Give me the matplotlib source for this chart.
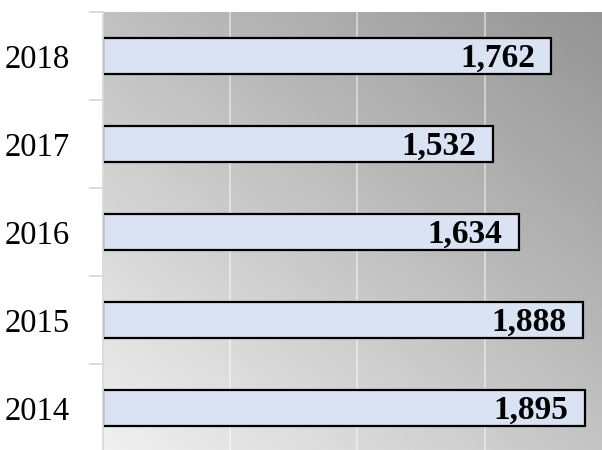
import numpy as np
import matplotlib.pyplot as plt
from matplotlib.ticker import FixedLocator, NullFormatter

years = ['2014', '2015', '2016', '2017', '2018']
values = [1895, 1888, 1634, 1532, 1762]
value_labels = ['1,895', '1,888', '1,634', '1,532', '1,762']

plt.rcParams['font.family'] = ['Liberation Serif', 'DejaVu Serif']

fig = plt.figure(figsize=(6.02, 4.5), dpi=100)
ax = fig.add_axes([103 / 602, -2 / 450, 499 / 602, 440 / 450])

xmax = 1961
ax.set_xlim(0, xmax)
ax.set_ylim(-0.5, 4.5)

# diagonal gray gradient background (light bottom-left, dark top-right)
gx = np.linspace(0, 1, 200)
gy = np.linspace(0, 1, 200)
X, Y = np.meshgrid(gx, gy)
shade = (240 - 44 * X - 48 * Y) / 255.0
ax.imshow(shade, cmap='gray', vmin=0, vmax=1, origin='lower',
          extent=[0, xmax, -0.5, 4.5], aspect='auto', zorder=0,
          interpolation='bilinear')

for gxv in [500, 1000, 1500]:
    ax.axvline(gxv, color='white', alpha=0.5, lw=1.3, zorder=1)

ypos = np.arange(len(years))
ax.barh(ypos, values, height=0.4, color='#dae3f3', edgecolor='black',
        linewidth=1.6, zorder=2)

for y, v, lab in zip(ypos, values, value_labels):
    ax.text(v - 65, y - 0.03, lab, ha='right', va='center', fontsize=24,
            fontweight='bold', color='black', zorder=3)

ax.set_yticks(ypos)
ax.set_yticklabels(years, fontsize=23.5)
ax.tick_params(axis='y', which='major', length=0, pad=24)
ax.yaxis.set_minor_locator(FixedLocator(np.arange(-0.5, 5, 1)))
ax.yaxis.set_minor_formatter(NullFormatter())
ax.tick_params(axis='y', which='minor', length=10, width=1.3, color='#d9d9d9')
ax.set_xticks([])

for side in ['top', 'right', 'bottom']:
    ax.spines[side].set_visible(False)
ax.spines['left'].set_color('#d9d9d9')
ax.spines['left'].set_linewidth(1.3)

fig.savefig('out.png', dpi=100)
